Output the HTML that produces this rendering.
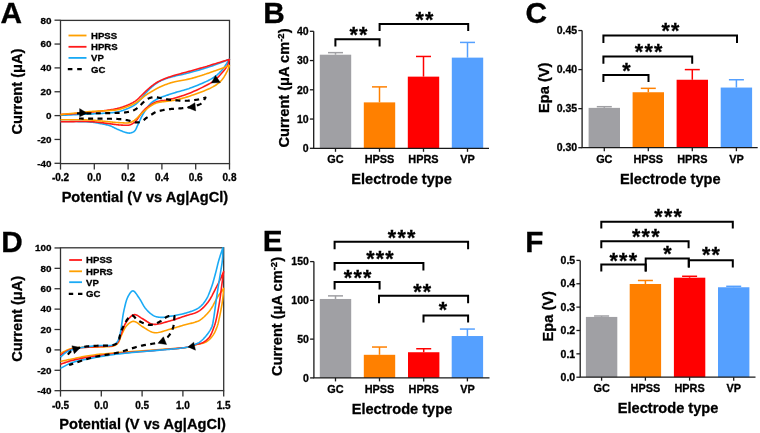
<!DOCTYPE html>
<html><head><meta charset="utf-8"><style>
html,body{margin:0;padding:0;background:#fff;}
svg{display:block;will-change:transform;}
text{font-family:"Liberation Sans", sans-serif;font-weight:bold;fill:#000;stroke:#000;stroke-width:0.3px;}
</style></head><body>
<svg width="760" height="433" viewBox="0 0 760 433">
<text x="0.4" y="23.1" font-size="29.8" text-anchor="start" >A</text>
<text x="263.3" y="22.9" font-size="29.8" text-anchor="start" >B</text>
<text x="525.6" y="22.6" font-size="29.8" text-anchor="start" >C</text>
<text x="1.3" y="251.6" font-size="29.8" text-anchor="start" >D</text>
<text x="262.8" y="251.4" font-size="29.8" text-anchor="start" >E</text>
<text x="525.3" y="251.6" font-size="29.8" text-anchor="start" >F</text>
<rect x="60.5" y="20.4" width="169" height="143.2" fill="none" stroke="#333" stroke-width="1.3"/>
<line x1="54.5" y1="20.2" x2="60.5" y2="20.2" stroke="#333" stroke-width="1.3"/>
<text x="51.5" y="23.5" font-size="9.9" text-anchor="end" >80</text>
<line x1="54.5" y1="44.05" x2="60.5" y2="44.05" stroke="#333" stroke-width="1.3"/>
<text x="51.5" y="47.35" font-size="9.9" text-anchor="end" >60</text>
<line x1="54.5" y1="67.9" x2="60.5" y2="67.9" stroke="#333" stroke-width="1.3"/>
<text x="51.5" y="71.2" font-size="9.9" text-anchor="end" >40</text>
<line x1="54.5" y1="91.75" x2="60.5" y2="91.75" stroke="#333" stroke-width="1.3"/>
<text x="51.5" y="95.05" font-size="9.9" text-anchor="end" >20</text>
<line x1="54.5" y1="115.6" x2="60.5" y2="115.6" stroke="#333" stroke-width="1.3"/>
<text x="51.5" y="118.9" font-size="9.9" text-anchor="end" >0</text>
<line x1="54.5" y1="139.45" x2="60.5" y2="139.45" stroke="#333" stroke-width="1.3"/>
<text x="51.5" y="142.75" font-size="9.9" text-anchor="end" >-20</text>
<line x1="54.5" y1="163.3" x2="60.5" y2="163.3" stroke="#333" stroke-width="1.3"/>
<text x="51.5" y="166.6" font-size="9.9" text-anchor="end" >-40</text>
<line x1="60.5" y1="163.6" x2="60.5" y2="169.6" stroke="#333" stroke-width="1.3"/>
<text x="60.5" y="181" font-size="10" text-anchor="middle" >-0.2</text>
<line x1="94.3" y1="163.6" x2="94.3" y2="169.6" stroke="#333" stroke-width="1.3"/>
<text x="94.3" y="181" font-size="10" text-anchor="middle" >0.0</text>
<line x1="128.1" y1="163.6" x2="128.1" y2="169.6" stroke="#333" stroke-width="1.3"/>
<text x="128.1" y="181" font-size="10" text-anchor="middle" >0.2</text>
<line x1="161.9" y1="163.6" x2="161.9" y2="169.6" stroke="#333" stroke-width="1.3"/>
<text x="161.9" y="181" font-size="10" text-anchor="middle" >0.4</text>
<line x1="195.7" y1="163.6" x2="195.7" y2="169.6" stroke="#333" stroke-width="1.3"/>
<text x="195.7" y="181" font-size="10" text-anchor="middle" >0.6</text>
<line x1="229.5" y1="163.6" x2="229.5" y2="169.6" stroke="#333" stroke-width="1.3"/>
<text x="229.5" y="181" font-size="10" text-anchor="middle" >0.8</text>
<text x="144.9" y="201.6" font-size="14.6" text-anchor="middle" >Potential (V vs Ag|AgCl)</text>
<text transform="translate(22,91.6) rotate(-90)" x="0" y="0" font-size="14.6" text-anchor="middle">Current (μA)</text>
<g>
<path d="M60.5,115.3 L63.01,115.19 L65.55,115.08 L68.12,114.97 L70.7,114.86 L73.28,114.75 L75.85,114.64 L78.38,114.53 L80.86,114.42 L83.28,114.31 L85.6,114.21 L87.79,114.1 L89.73,114.01 L91.36,113.94 L92.78,113.87 L94.11,113.81 L95.4,113.75 L96.65,113.7 L97.87,113.64 L99.08,113.58 L100.26,113.51 L101.45,113.45 L102.63,113.37 L103.81,113.29 L104.97,113.2 L106.11,113.12 L107.24,113.04 L108.35,112.96 L109.45,112.88 L110.55,112.79 L111.64,112.7 L112.73,112.6 L113.8,112.48 L114.86,112.34 L115.92,112.18 L116.96,112 L117.98,111.79 L118.96,111.56 L119.94,111.31 L120.9,111.04 L121.86,110.74 L122.81,110.44 L123.75,110.11 L124.67,109.78 L125.58,109.43 L126.47,109.08 L127.33,108.72 L128.16,108.37 L128.94,108.02 L129.64,107.7 L130.29,107.39 L130.92,107.08 L131.54,106.77 L132.14,106.45 L132.72,106.13 L133.3,105.8 L133.86,105.46 L134.41,105.11 L134.95,104.75 L135.48,104.38 L135.98,104 L136.46,103.62 L136.92,103.24 L137.36,102.85 L137.78,102.45 L138.2,102.04 L138.61,101.62 L139.01,101.2 L139.41,100.77 L139.81,100.33 L140.2,99.89 L140.6,99.45 L141.01,98.99 L141.42,98.51 L141.83,98.01 L142.24,97.51 L142.64,97 L143.05,96.48 L143.45,95.95 L143.85,95.43 L144.26,94.9 L144.68,94.37 L145.11,93.84 L145.55,93.32 L146.03,92.78 L146.53,92.22 L147.07,91.64 L147.61,91.06 L148.18,90.47 L148.75,89.88 L149.33,89.29 L149.91,88.71 L150.5,88.14 L151.1,87.59 L151.7,87.04 L152.3,86.52 L152.89,86.02 L153.46,85.55 L154.03,85.1 L154.61,84.65 L155.18,84.22 L155.76,83.8 L156.35,83.39 L156.93,83 L157.52,82.61 L158.11,82.24 L158.71,81.88 L159.3,81.54 L159.89,81.22 L160.46,80.92 L161.03,80.64 L161.6,80.37 L162.17,80.12 L162.75,79.88 L163.32,79.65 L163.9,79.43 L164.48,79.22 L165.06,79.01 L165.64,78.8 L166.22,78.6 L166.79,78.4 L167.35,78.21 L167.9,78.03 L168.44,77.86 L168.98,77.7 L169.52,77.54 L170.06,77.38 L170.61,77.22 L171.18,77.07 L171.77,76.91 L172.39,76.74 L173.06,76.57 L173.87,76.36 L174.86,76.11 L176.01,75.84 L177.25,75.55 L178.54,75.27 L179.88,74.97 L181.27,74.67 L182.68,74.36 L184.12,74.03 L185.58,73.69 L187.05,73.34 L188.55,72.97 L190.13,72.56 L191.85,72.09 L193.69,71.58 L195.6,71.04 L197.55,70.47 L199.53,69.89 L201.52,69.29 L203.51,68.68 L205.48,68.06 L207.43,67.44 L209.33,66.82 L211.17,66.22 L212.88,65.63 L214.44,65.09 L215.89,64.57 L217.3,64.04 L218.68,63.52 L220.04,62.99 L221.38,62.47 L222.72,61.94 L224.04,61.41 L225.37,60.88 L226.71,60.35 L228.05,59.83 L229.4,59.3 L228.79,60.21 L228.19,61.12 L227.6,62.04 L227.01,62.96 L226.42,63.88 L225.82,64.8 L225.22,65.71 L224.61,66.61 L223.98,67.49 L223.34,68.35 L222.68,69.18 L222.01,69.97 L221.34,70.73 L220.67,71.45 L220.01,72.14 L219.34,72.82 L218.66,73.48 L217.95,74.13 L217.22,74.77 L216.46,75.4 L215.66,76.02 L214.82,76.65 L213.89,77.29 L212.77,78.01 L211.37,78.85 L209.72,79.76 L207.9,80.7 L205.98,81.63 L203.97,82.56 L201.91,83.47 L199.82,84.35 L197.74,85.2 L195.7,86.02 L193.72,86.79 L191.86,87.5 L190.19,88.12 L188.74,88.64 L187.44,89.07 L186.19,89.47 L184.96,89.84 L183.75,90.19 L182.56,90.52 L181.39,90.84 L180.23,91.15 L179.1,91.45 L177.99,91.76 L176.9,92.08 L175.87,92.38 L174.92,92.68 L174.02,92.96 L173.15,93.24 L172.28,93.52 L171.43,93.8 L170.59,94.08 L169.77,94.35 L168.97,94.61 L168.19,94.87 L167.44,95.12 L166.72,95.36 L166.09,95.57 L165.55,95.75 L165.08,95.9 L164.64,96.04 L164.21,96.18 L163.8,96.31 L163.39,96.44 L162.99,96.57 L162.6,96.71 L162.2,96.85 L161.8,96.99 L161.4,97.14 L160.99,97.31 L160.58,97.48 L160.16,97.65 L159.74,97.84 L159.32,98.02 L158.9,98.21 L158.48,98.41 L158.06,98.61 L157.65,98.82 L157.23,99.03 L156.82,99.25 L156.41,99.47 L155.99,99.71 L155.57,99.95 L155.14,100.2 L154.71,100.45 L154.29,100.71 L153.86,100.97 L153.43,101.24 L153.01,101.52 L152.6,101.81 L152.19,102.11 L151.79,102.43 L151.39,102.76 L150.99,103.12 L150.59,103.51 L150.19,103.93 L149.8,104.37 L149.42,104.82 L149.04,105.29 L148.67,105.77 L148.3,106.26 L147.94,106.76 L147.58,107.26 L147.22,107.77 L146.86,108.29 L146.49,108.82 L146.11,109.37 L145.72,109.93 L145.33,110.51 L144.95,111.09 L144.57,111.68 L144.19,112.28 L143.81,112.89 L143.44,113.5 L143.07,114.12 L142.71,114.74 L142.35,115.37 L142,116.02 L141.64,116.69 L141.29,117.38 L140.95,118.09 L140.61,118.81 L140.27,119.54 L139.94,120.27 L139.62,120.99 L139.29,121.72 L138.97,122.43 L138.65,123.13 L138.33,123.82 L138.02,124.47 L137.73,125.09 L137.45,125.69 L137.19,126.3 L136.93,126.9 L136.67,127.49 L136.41,128.08 L136.15,128.64 L135.87,129.18 L135.58,129.69 L135.27,130.16 L134.95,130.59 L134.62,130.95 L134.3,131.25 L133.98,131.51 L133.65,131.74 L133.32,131.95 L132.97,132.14 L132.62,132.31 L132.26,132.47 L131.9,132.6 L131.55,132.72 L131.19,132.83 L130.85,132.92 L130.52,132.99 L130.22,133.04 L129.93,133.08 L129.65,133.1 L129.38,133.11 L129.11,133.11 L128.83,133.09 L128.55,133.07 L128.27,133.03 L127.97,132.98 L127.66,132.93 L127.32,132.86 L126.89,132.77 L126.35,132.63 L125.7,132.45 L125,132.23 L124.26,131.98 L123.49,131.71 L122.7,131.41 L121.9,131.1 L121.1,130.78 L120.3,130.45 L119.52,130.13 L118.75,129.81 L118.02,129.5 L117.32,129.2 L116.65,128.89 L115.99,128.57 L115.33,128.25 L114.69,127.92 L114.04,127.59 L113.39,127.26 L112.73,126.95 L112.07,126.64 L111.39,126.34 L110.69,126.07 L109.97,125.8 L109.2,125.55 L108.41,125.31 L107.6,125.09 L106.77,124.88 L105.93,124.68 L105.09,124.5 L104.24,124.32 L103.39,124.15 L102.54,123.98 L101.69,123.82 L100.84,123.66 L100.01,123.5 L99.2,123.35 L98.41,123.2 L97.64,123.05 L96.87,122.91 L96.11,122.78 L95.33,122.65 L94.54,122.53 L93.72,122.41 L92.86,122.3 L91.95,122.19 L90.94,122.09 L89.65,121.99 L87.95,121.87 L85.91,121.77 L83.66,121.69 L81.27,121.63 L78.78,121.58 L76.2,121.55 L73.57,121.53 L70.91,121.51 L68.26,121.49 L65.63,121.47 L63.04,121.44 L60.5,121.4" fill="none" stroke="#1AAAF5" stroke-width="1.6" stroke-linejoin="round"/>
<path d="M60.5,114.5 L61.71,114.43 L62.91,114.36 L64.12,114.29 L65.32,114.22 L66.53,114.15 L67.74,114.08 L68.94,114.01 L70.15,113.93 L71.36,113.86 L72.57,113.77 L73.79,113.69 L75.01,113.6 L76.24,113.5 L77.49,113.4 L78.73,113.29 L79.98,113.18 L81.23,113.06 L82.49,112.94 L83.74,112.82 L84.99,112.7 L86.24,112.57 L87.5,112.45 L88.75,112.33 L90,112.2 L91.26,112.08 L92.52,111.95 L93.78,111.83 L95.04,111.71 L96.31,111.59 L97.57,111.46 L98.83,111.33 L100.08,111.2 L101.32,111.06 L102.56,110.91 L103.78,110.76 L104.97,110.6 L106.11,110.45 L107.24,110.3 L108.35,110.14 L109.45,109.99 L110.55,109.83 L111.64,109.66 L112.72,109.49 L113.8,109.3 L114.86,109.1 L115.92,108.88 L116.96,108.65 L117.97,108.4 L118.96,108.13 L119.93,107.86 L120.9,107.56 L121.85,107.26 L122.8,106.94 L123.74,106.61 L124.67,106.27 L125.57,105.93 L126.46,105.58 L127.33,105.22 L128.16,104.86 L128.94,104.52 L129.64,104.2 L130.29,103.9 L130.92,103.59 L131.53,103.29 L132.13,102.97 L132.72,102.66 L133.29,102.33 L133.85,102 L134.4,101.66 L134.94,101.32 L135.47,100.96 L135.98,100.61 L136.46,100.25 L136.91,99.89 L137.34,99.52 L137.77,99.15 L138.18,98.76 L138.59,98.38 L138.99,97.99 L139.39,97.59 L139.79,97.19 L140.19,96.8 L140.59,96.4 L141,96 L141.42,95.59 L141.84,95.18 L142.25,94.76 L142.67,94.34 L143.08,93.91 L143.5,93.49 L143.91,93.07 L144.33,92.64 L144.74,92.23 L145.16,91.81 L145.58,91.41 L146,91.01 L146.41,90.62 L146.82,90.23 L147.24,89.85 L147.65,89.48 L148.06,89.1 L148.48,88.73 L148.9,88.37 L149.31,88 L149.73,87.64 L150.15,87.29 L150.58,86.95 L150.99,86.61 L151.41,86.28 L151.82,85.96 L152.23,85.64 L152.65,85.33 L153.06,85.02 L153.48,84.71 L153.89,84.41 L154.31,84.12 L154.73,83.83 L155.15,83.55 L155.58,83.27 L155.99,83.01 L156.41,82.75 L156.82,82.5 L157.23,82.26 L157.65,82.03 L158.06,81.8 L158.48,81.57 L158.9,81.35 L159.32,81.13 L159.74,80.92 L160.16,80.71 L160.58,80.51 L161,80.3 L161.41,80.11 L161.81,79.92 L162.21,79.74 L162.62,79.56 L163.02,79.39 L163.42,79.22 L163.83,79.05 L164.25,78.88 L164.67,78.71 L165.1,78.54 L165.56,78.37 L166.05,78.18 L166.59,77.98 L167.17,77.77 L167.76,77.55 L168.37,77.34 L169,77.12 L169.63,76.91 L170.28,76.69 L170.94,76.47 L171.61,76.26 L172.29,76.04 L173.01,75.82 L173.78,75.58 L174.64,75.32 L175.56,75.05 L176.52,74.78 L177.49,74.51 L178.49,74.23 L179.51,73.96 L180.55,73.68 L181.6,73.39 L182.68,73.1 L183.77,72.81 L184.9,72.5 L186.13,72.16 L187.53,71.78 L189.06,71.36 L190.68,70.91 L192.34,70.45 L194.04,69.98 L195.75,69.51 L197.43,69.05 L199.09,68.59 L200.69,68.14 L202.21,67.71 L203.6,67.3 L204.79,66.96 L205.72,66.68 L206.48,66.45 L207.16,66.25 L207.81,66.04 L208.43,65.85 L209.04,65.65 L209.64,65.46 L210.26,65.26 L210.9,65.06 L211.56,64.85 L212.29,64.62 L213.16,64.35 L214.22,64.03 L215.43,63.65 L216.71,63.26 L218.05,62.85 L219.43,62.43 L220.85,62 L222.28,61.57 L223.72,61.13 L225.16,60.69 L226.59,60.26 L228,59.83 L229.4,59.4 L229.2,60 L229.01,60.59 L228.84,61.18 L228.66,61.77 L228.49,62.36 L228.32,62.95 L228.13,63.55 L227.92,64.14 L227.68,64.75 L227.42,65.36 L227.11,65.99 L226.71,66.71 L226.18,67.55 L225.54,68.49 L224.8,69.49 L224,70.5 L223.15,71.53 L222.27,72.56 L221.38,73.57 L220.5,74.54 L219.63,75.47 L218.81,76.34 L218.05,77.13 L217.43,77.77 L216.95,78.26 L216.57,78.64 L216.25,78.97 L215.94,79.27 L215.63,79.56 L215.33,79.84 L215.02,80.11 L214.68,80.39 L214.32,80.67 L213.92,80.96 L213.43,81.3 L212.69,81.78 L211.57,82.47 L210.1,83.32 L208.39,84.27 L206.5,85.27 L204.49,86.3 L202.38,87.35 L200.22,88.4 L198.06,89.42 L195.92,90.41 L193.85,91.33 L191.92,92.18 L190.19,92.91 L188.68,93.52 L187.31,94.05 L185.98,94.54 L184.67,95 L183.38,95.44 L182.11,95.86 L180.87,96.25 L179.64,96.63 L178.44,96.99 L177.27,97.34 L176.14,97.67 L175.11,97.97 L174.19,98.23 L173.35,98.46 L172.55,98.68 L171.75,98.89 L170.98,99.09 L170.21,99.28 L169.47,99.46 L168.74,99.63 L168.03,99.79 L167.34,99.94 L166.67,100.07 L166.07,100.18 L165.55,100.27 L165.09,100.34 L164.66,100.39 L164.23,100.44 L163.82,100.48 L163.41,100.52 L163.01,100.55 L162.61,100.59 L162.21,100.63 L161.81,100.68 L161.41,100.74 L161,100.8 L160.58,100.88 L160.16,100.95 L159.74,101.03 L159.32,101.11 L158.9,101.19 L158.48,101.28 L158.06,101.37 L157.65,101.48 L157.23,101.59 L156.82,101.72 L156.41,101.86 L155.99,102.01 L155.57,102.18 L155.15,102.38 L154.73,102.58 L154.31,102.8 L153.89,103.03 L153.47,103.27 L153.06,103.52 L152.65,103.77 L152.23,104.02 L151.82,104.28 L151.41,104.54 L150.99,104.8 L150.57,105.07 L150.15,105.34 L149.72,105.61 L149.29,105.89 L148.86,106.18 L148.43,106.46 L148.01,106.75 L147.6,107.05 L147.19,107.36 L146.78,107.67 L146.39,107.98 L146.01,108.3 L145.64,108.62 L145.28,108.95 L144.93,109.28 L144.58,109.62 L144.25,109.96 L143.91,110.31 L143.58,110.67 L143.26,111.02 L142.94,111.39 L142.62,111.75 L142.31,112.13 L142,112.51 L141.69,112.9 L141.38,113.31 L141.08,113.72 L140.78,114.15 L140.48,114.58 L140.19,115.01 L139.91,115.44 L139.62,115.86 L139.34,116.29 L139.06,116.7 L138.78,117.1 L138.52,117.48 L138.27,117.83 L138.03,118.16 L137.81,118.49 L137.58,118.81 L137.36,119.13 L137.14,119.44 L136.92,119.75 L136.69,120.05 L136.45,120.35 L136.21,120.64 L135.96,120.92 L135.69,121.2 L135.42,121.47 L135.13,121.74 L134.83,122 L134.53,122.26 L134.22,122.51 L133.9,122.75 L133.58,122.99 L133.26,123.21 L132.94,123.43 L132.62,123.63 L132.31,123.82 L132.02,123.98 L131.76,124.13 L131.52,124.25 L131.29,124.37 L131.06,124.48 L130.83,124.58 L130.6,124.67 L130.37,124.76 L130.12,124.84 L129.86,124.91 L129.59,124.98 L129.29,125.04 L128.9,125.11 L128.38,125.17 L127.77,125.23 L127.09,125.26 L126.37,125.28 L125.61,125.27 L124.83,125.26 L124.03,125.23 L123.22,125.19 L122.4,125.15 L121.59,125.1 L120.79,125.05 L119.99,125 L119.18,124.93 L118.36,124.86 L117.53,124.78 L116.7,124.68 L115.87,124.58 L115.03,124.47 L114.19,124.36 L113.35,124.25 L112.51,124.13 L111.67,124.02 L110.84,123.91 L110,123.8 L109.17,123.69 L108.33,123.58 L107.5,123.47 L106.67,123.36 L105.83,123.25 L105,123.13 L104.17,123.02 L103.33,122.91 L102.5,122.8 L101.67,122.7 L100.84,122.6 L100.01,122.5 L99.2,122.41 L98.41,122.32 L97.63,122.23 L96.86,122.14 L96.1,122.06 L95.32,121.98 L94.53,121.9 L93.71,121.83 L92.85,121.77 L91.95,121.71 L90.94,121.65 L89.65,121.6 L87.95,121.55 L85.91,121.52 L83.65,121.5 L81.27,121.51 L78.77,121.53 L76.2,121.57 L73.57,121.61 L70.91,121.65 L68.25,121.7 L65.62,121.74 L63.04,121.77 L60.5,121.8" fill="none" stroke="#FF1A1A" stroke-width="1.6" stroke-linejoin="round"/>
<path d="M60.5,114.6 L63.01,114.34 L65.55,114.07 L68.11,113.8 L70.7,113.52 L73.28,113.24 L75.85,112.97 L78.38,112.7 L80.86,112.45 L83.27,112.21 L85.6,111.98 L87.79,111.79 L89.73,111.63 L91.36,111.51 L92.78,111.41 L94.11,111.34 L95.39,111.27 L96.64,111.22 L97.87,111.16 L99.07,111.11 L100.26,111.06 L101.44,111.01 L102.62,110.95 L103.8,110.88 L104.97,110.8 L106.11,110.73 L107.23,110.66 L108.35,110.59 L109.45,110.53 L110.55,110.46 L111.64,110.39 L112.72,110.31 L113.8,110.21 L114.86,110.09 L115.92,109.95 L116.96,109.78 L117.97,109.59 L118.96,109.37 L119.93,109.13 L120.9,108.87 L121.85,108.59 L122.8,108.29 L123.74,107.98 L124.66,107.66 L125.57,107.33 L126.46,107 L127.33,106.66 L128.16,106.33 L128.94,106.02 L129.63,105.74 L130.28,105.46 L130.91,105.19 L131.52,104.92 L132.11,104.64 L132.7,104.37 L133.27,104.08 L133.84,103.8 L134.39,103.5 L134.93,103.21 L135.47,102.91 L135.97,102.61 L136.45,102.32 L136.9,102.03 L137.33,101.74 L137.75,101.45 L138.17,101.15 L138.58,100.85 L138.98,100.55 L139.38,100.24 L139.78,99.93 L140.19,99.62 L140.59,99.31 L141,99 L141.42,98.67 L141.83,98.35 L142.24,98.01 L142.64,97.67 L143.05,97.34 L143.46,96.99 L143.87,96.65 L144.28,96.32 L144.7,95.98 L145.13,95.65 L145.56,95.32 L146.02,95 L146.49,94.67 L146.98,94.34 L147.47,94.02 L147.97,93.7 L148.48,93.39 L149,93.07 L149.52,92.76 L150.05,92.45 L150.58,92.14 L151.11,91.83 L151.66,91.51 L152.22,91.19 L152.82,90.84 L153.44,90.49 L154.07,90.12 L154.71,89.76 L155.36,89.39 L156.01,89.03 L156.66,88.67 L157.31,88.32 L157.97,87.97 L158.62,87.64 L159.26,87.32 L159.88,87.02 L160.48,86.74 L161.06,86.47 L161.63,86.22 L162.21,85.97 L162.78,85.73 L163.36,85.5 L163.93,85.28 L164.5,85.05 L165.07,84.84 L165.65,84.62 L166.22,84.41 L166.79,84.2 L167.35,84 L167.9,83.8 L168.44,83.61 L168.98,83.42 L169.52,83.24 L170.06,83.06 L170.61,82.88 L171.18,82.71 L171.77,82.53 L172.39,82.36 L173.06,82.17 L173.87,81.97 L174.88,81.73 L176.06,81.48 L177.33,81.22 L178.67,80.98 L180.05,80.73 L181.47,80.48 L182.92,80.22 L184.37,79.96 L185.81,79.69 L187.24,79.41 L188.63,79.11 L189.98,78.79 L191.3,78.46 L192.61,78.11 L193.92,77.75 L195.23,77.37 L196.54,76.98 L197.84,76.58 L199.12,76.19 L200.37,75.79 L201.58,75.41 L202.76,75.03 L203.88,74.67 L204.87,74.34 L205.71,74.07 L206.43,73.82 L207.1,73.6 L207.74,73.38 L208.37,73.16 L208.98,72.94 L209.6,72.72 L210.23,72.49 L210.88,72.26 L211.55,72.02 L212.29,71.75 L213.16,71.44 L214.22,71.07 L215.43,70.63 L216.72,70.17 L218.06,69.69 L219.44,69.19 L220.85,68.68 L222.28,68.17 L223.72,67.65 L225.16,67.13 L226.59,66.61 L228,66.1 L229.4,65.6 L229.23,66.04 L229.07,66.49 L228.92,66.92 L228.76,67.36 L228.61,67.79 L228.46,68.23 L228.29,68.67 L228.12,69.12 L227.94,69.58 L227.74,70.04 L227.52,70.53 L227.25,71.08 L226.93,71.73 L226.56,72.46 L226.16,73.22 L225.74,74.01 L225.29,74.82 L224.82,75.63 L224.34,76.44 L223.83,77.24 L223.3,78.02 L222.75,78.78 L222.18,79.5 L221.59,80.18 L221,80.83 L220.39,81.44 L219.77,82.03 L219.13,82.6 L218.48,83.15 L217.8,83.68 L217.09,84.21 L216.35,84.73 L215.57,85.24 L214.75,85.76 L213.85,86.29 L212.76,86.91 L211.38,87.64 L209.74,88.44 L207.93,89.27 L206.02,90.1 L204.01,90.92 L201.96,91.73 L199.87,92.52 L197.79,93.29 L195.74,94.02 L193.75,94.72 L191.87,95.36 L190.17,95.94 L188.67,96.43 L187.3,96.87 L185.97,97.28 L184.66,97.67 L183.37,98.04 L182.1,98.39 L180.86,98.72 L179.64,99.03 L178.44,99.32 L177.27,99.6 L176.14,99.85 L175.11,100.07 L174.19,100.25 L173.35,100.41 L172.55,100.54 L171.75,100.67 L170.97,100.78 L170.21,100.88 L169.46,100.98 L168.74,101.07 L168.03,101.15 L167.33,101.23 L166.67,101.32 L166.07,101.39 L165.55,101.46 L165.09,101.51 L164.65,101.56 L164.23,101.6 L163.82,101.65 L163.41,101.69 L163.01,101.73 L162.61,101.78 L162.21,101.83 L161.81,101.88 L161.41,101.94 L161,102 L160.58,102.07 L160.16,102.14 L159.74,102.21 L159.32,102.28 L158.9,102.35 L158.48,102.43 L158.06,102.52 L157.65,102.61 L157.23,102.72 L156.82,102.84 L156.41,102.96 L155.99,103.11 L155.57,103.27 L155.15,103.46 L154.73,103.65 L154.31,103.86 L153.89,104.08 L153.47,104.3 L153.05,104.54 L152.64,104.78 L152.23,105.03 L151.82,105.29 L151.41,105.54 L150.99,105.81 L150.57,106.08 L150.15,106.36 L149.73,106.65 L149.31,106.95 L148.89,107.25 L148.47,107.56 L148.06,107.87 L147.64,108.19 L147.23,108.51 L146.82,108.84 L146.41,109.17 L145.99,109.51 L145.58,109.85 L145.15,110.21 L144.73,110.57 L144.31,110.94 L143.9,111.31 L143.48,111.69 L143.06,112.07 L142.65,112.45 L142.24,112.83 L141.82,113.22 L141.41,113.61 L141,114.01 L140.58,114.42 L140.16,114.84 L139.74,115.27 L139.32,115.71 L138.9,116.15 L138.48,116.58 L138.06,117.02 L137.65,117.44 L137.23,117.86 L136.82,118.26 L136.41,118.63 L136.03,118.97 L135.67,119.27 L135.32,119.55 L134.98,119.82 L134.65,120.08 L134.31,120.34 L133.97,120.58 L133.64,120.81 L133.31,121.03 L132.98,121.24 L132.65,121.44 L132.33,121.62 L132.03,121.78 L131.76,121.92 L131.51,122.04 L131.28,122.14 L131.05,122.24 L130.82,122.33 L130.59,122.42 L130.36,122.49 L130.12,122.56 L129.86,122.63 L129.59,122.69 L129.28,122.75 L128.9,122.81 L128.38,122.86 L127.77,122.91 L127.09,122.94 L126.37,122.95 L125.61,122.94 L124.83,122.93 L124.03,122.9 L123.22,122.86 L122.4,122.82 L121.59,122.78 L120.79,122.74 L119.99,122.7 L119.18,122.66 L118.36,122.61 L117.53,122.55 L116.7,122.49 L115.87,122.43 L115.03,122.36 L114.19,122.28 L113.35,122.21 L112.51,122.13 L111.67,122.05 L110.84,121.98 L110,121.9 L109.17,121.82 L108.33,121.74 L107.5,121.66 L106.67,121.58 L105.83,121.49 L105,121.41 L104.17,121.32 L103.33,121.23 L102.5,121.15 L101.67,121.06 L100.83,120.98 L100.01,120.9 L99.2,120.82 L98.4,120.74 L97.63,120.65 L96.86,120.57 L96.1,120.49 L95.32,120.41 L94.53,120.33 L93.71,120.26 L92.85,120.18 L91.95,120.12 L90.94,120.06 L89.65,119.99 L87.95,119.93 L85.91,119.88 L83.65,119.84 L81.27,119.81 L78.77,119.8 L76.2,119.8 L73.57,119.8 L70.91,119.8 L68.25,119.81 L65.62,119.81 L63.04,119.81 L60.5,119.8" fill="none" stroke="#FFA000" stroke-width="1.6" stroke-linejoin="round"/>
<path d="M77,113.4 L78.06,113.39 L79.11,113.38 L80.15,113.38 L81.18,113.37 L82.21,113.36 L83.24,113.36 L84.3,113.35 L85.37,113.34 L86.47,113.33 L87.61,113.32 L88.83,113.31 L90.24,113.3 L91.93,113.29 L93.87,113.27 L95.96,113.26 L98.14,113.25 L100.37,113.23 L102.62,113.22 L104.87,113.2 L107.08,113.17 L109.22,113.14 L111.26,113.1 L113.13,113.05 L114.74,113.01 L116.03,112.96 L117.12,112.92 L118.14,112.88 L119.12,112.84 L120.08,112.8 L121,112.75 L121.9,112.7 L122.76,112.64 L123.61,112.57 L124.42,112.49 L125.21,112.4 L125.91,112.31 L126.52,112.22 L127.05,112.13 L127.55,112.04 L128.04,111.95 L128.51,111.85 L128.97,111.75 L129.42,111.64 L129.87,111.52 L130.3,111.4 L130.74,111.27 L131.17,111.14 L131.58,111 L131.99,110.87 L132.37,110.73 L132.75,110.59 L133.12,110.45 L133.49,110.3 L133.85,110.14 L134.21,109.98 L134.57,109.81 L134.93,109.62 L135.28,109.43 L135.64,109.21 L136.02,108.97 L136.43,108.7 L136.84,108.39 L137.26,108.05 L137.68,107.7 L138.1,107.33 L138.51,106.94 L138.93,106.55 L139.34,106.16 L139.76,105.76 L140.17,105.37 L140.59,104.98 L141,104.6 L141.42,104.21 L141.83,103.81 L142.24,103.41 L142.65,103 L143.06,102.59 L143.47,102.19 L143.88,101.79 L144.3,101.39 L144.71,101.02 L145.14,100.66 L145.56,100.33 L145.99,100.02 L146.4,99.74 L146.81,99.49 L147.21,99.24 L147.62,99.01 L148.04,98.79 L148.46,98.58 L148.88,98.38 L149.3,98.19 L149.72,98.03 L150.15,97.87 L150.57,97.73 L150.99,97.61 L151.41,97.51 L151.82,97.42 L152.24,97.35 L152.65,97.29 L153.07,97.24 L153.49,97.2 L153.91,97.18 L154.33,97.17 L154.75,97.16 L155.17,97.17 L155.58,97.18 L156,97.21 L156.41,97.24 L156.82,97.29 L157.22,97.35 L157.62,97.43 L158.01,97.51 L158.41,97.6 L158.82,97.7 L159.23,97.8 L159.65,97.9 L160.09,98.01 L160.55,98.11 L161.07,98.21 L161.68,98.33 L162.34,98.46 L163.04,98.6 L163.76,98.74 L164.5,98.88 L165.26,99.03 L166.03,99.17 L166.81,99.31 L167.6,99.44 L168.39,99.57 L169.2,99.69 L170.05,99.8 L170.97,99.91 L171.94,100.02 L172.94,100.12 L173.96,100.21 L175,100.3 L176.04,100.38 L177.08,100.45 L178.1,100.52 L179.12,100.57 L180.1,100.62 L181.05,100.66 L181.92,100.7 L182.7,100.72 L183.41,100.74 L184.09,100.75 L184.75,100.76 L185.4,100.76 L186.05,100.76 L186.69,100.75 L187.34,100.74 L187.99,100.72 L188.65,100.68 L189.33,100.64 L190.04,100.59 L190.81,100.53 L191.62,100.45 L192.45,100.36 L193.3,100.26 L194.15,100.15 L195.01,100.03 L195.86,99.9 L196.69,99.77 L197.51,99.63 L198.3,99.49 L199.05,99.35 L199.72,99.21 L200.31,99.08 L200.84,98.96 L201.33,98.83 L201.82,98.7 L202.29,98.56 L202.75,98.43 L203.21,98.29 L203.66,98.15 L204.11,98.01 L204.57,97.87 L205.03,97.74 L205.5,97.6 L205.19,98.08 L204.89,98.58 L204.59,99.08 L204.3,99.59 L204,100.1 L203.7,100.6 L203.4,101.09 L203.08,101.57 L202.76,102.02 L202.42,102.44 L202.07,102.83 L201.71,103.17 L201.36,103.46 L201.01,103.71 L200.65,103.93 L200.29,104.13 L199.92,104.32 L199.54,104.49 L199.15,104.65 L198.75,104.8 L198.33,104.95 L197.9,105.1 L197.44,105.25 L196.92,105.42 L196.3,105.62 L195.6,105.82 L194.86,106.02 L194.08,106.22 L193.27,106.4 L192.45,106.58 L191.63,106.76 L190.8,106.92 L189.97,107.08 L189.16,107.22 L188.38,107.36 L187.64,107.49 L186.94,107.6 L186.27,107.71 L185.61,107.8 L184.96,107.89 L184.31,107.97 L183.66,108.04 L183.02,108.11 L182.4,108.18 L181.78,108.24 L181.17,108.29 L180.59,108.35 L180.05,108.39 L179.57,108.43 L179.13,108.47 L178.72,108.49 L178.31,108.52 L177.92,108.54 L177.53,108.56 L177.13,108.58 L176.73,108.6 L176.32,108.62 L175.9,108.64 L175.44,108.67 L174.92,108.71 L174.3,108.75 L173.6,108.8 L172.86,108.85 L172.09,108.91 L171.29,108.96 L170.5,109.03 L169.7,109.09 L168.91,109.16 L168.14,109.24 L167.39,109.32 L166.7,109.41 L166.08,109.49 L165.55,109.58 L165.09,109.66 L164.65,109.74 L164.22,109.83 L163.81,109.92 L163.41,110.01 L163.01,110.11 L162.61,110.2 L162.21,110.3 L161.81,110.4 L161.41,110.5 L161,110.6 L160.58,110.69 L160.16,110.79 L159.74,110.88 L159.32,110.97 L158.9,111.06 L158.48,111.15 L158.06,111.25 L157.64,111.36 L157.22,111.47 L156.81,111.6 L156.4,111.75 L156,111.91 L155.59,112.09 L155.18,112.3 L154.78,112.51 L154.38,112.74 L153.98,112.98 L153.58,113.23 L153.19,113.49 L152.79,113.75 L152.4,114.02 L152,114.28 L151.6,114.54 L151.19,114.8 L150.77,115.07 L150.33,115.35 L149.9,115.62 L149.46,115.9 L149.02,116.18 L148.58,116.47 L148.14,116.75 L147.7,117.04 L147.27,117.33 L146.84,117.62 L146.42,117.91 L146.01,118.2 L145.62,118.49 L145.24,118.79 L144.87,119.1 L144.51,119.42 L144.15,119.74 L143.79,120.05 L143.42,120.35 L143.06,120.64 L142.68,120.92 L142.3,121.17 L141.9,121.39 L141.49,121.59 L141.07,121.75 L140.63,121.9 L140.19,122.02 L139.73,122.13 L139.26,122.21 L138.79,122.28 L138.32,122.34 L137.85,122.38 L137.38,122.4 L136.91,122.41 L136.46,122.41 L136.01,122.39 L135.57,122.36 L135.14,122.3 L134.72,122.23 L134.29,122.14 L133.87,122.03 L133.45,121.92 L133.03,121.8 L132.62,121.67 L132.21,121.55 L131.8,121.43 L131.4,121.31 L131.02,121.21 L130.66,121.11 L130.32,121.01 L129.99,120.92 L129.66,120.82 L129.34,120.73 L129.02,120.63 L128.7,120.54 L128.37,120.45 L128.02,120.36 L127.66,120.27 L127.28,120.18 L126.82,120.09 L126.27,119.98 L125.64,119.88 L124.98,119.77 L124.3,119.66 L123.59,119.56 L122.85,119.47 L122.1,119.38 L121.32,119.29 L120.52,119.21 L119.7,119.14 L118.83,119.07 L117.84,119 L116.67,118.93 L115.35,118.87 L113.95,118.82 L112.5,118.79 L111,118.77 L109.47,118.75 L107.91,118.74 L106.33,118.74 L104.75,118.73 L103.16,118.72 L101.57,118.71 L99.95,118.7 L98.29,118.68 L96.59,118.66 L94.86,118.64 L93.11,118.62 L91.36,118.61 L89.6,118.59 L87.83,118.58 L86.06,118.56 L84.29,118.55 L82.52,118.53 L80.76,118.52 L79,118.5" fill="none" stroke="#000" stroke-width="2.2" stroke-linejoin="round" stroke-dasharray="5,4.4"/>
<polygon points="79.6,108.6 79.6,116.8 87.2,113.2" fill="#000" stroke="#000" stroke-width="0.4" stroke-linejoin="round"/>
<polygon points="215.4,75.4 211.4,82.9 220.4,82.6" fill="#000" stroke="#000" stroke-width="0.4" stroke-linejoin="round"/>
<polygon points="187.2,107.5 194.9,102.7 195.7,110.9" fill="#000" stroke="#000" stroke-width="0.4" stroke-linejoin="round"/>
</g>
<line x1="68.5" y1="35.5" x2="86.5" y2="35.5" stroke="#FFA000" stroke-width="1.8"/>
<line x1="68.5" y1="46.8" x2="86.5" y2="46.8" stroke="#FF1A1A" stroke-width="1.8"/>
<line x1="68.5" y1="57.9" x2="86.5" y2="57.9" stroke="#1AAAF5" stroke-width="1.8"/>
<line x1="67.8" y1="69.2" x2="82.2" y2="69.2" stroke="#000" stroke-width="2.2" stroke-dasharray="4.6,4.8"/>
<text x="91" y="38.9" font-size="9.6" text-anchor="start" >HPSS</text>
<text x="91" y="50.2" font-size="9.6" text-anchor="start" >HPRS</text>
<text x="91" y="61.3" font-size="9.6" text-anchor="start" >VP</text>
<text x="91" y="72.6" font-size="9.6" text-anchor="start" >GC</text>
<rect x="60.5" y="247.8" width="163.2" height="142.8" fill="none" stroke="#333" stroke-width="1.3"/>
<line x1="54.5" y1="247.95" x2="60.5" y2="247.95" stroke="#333" stroke-width="1.3"/>
<text x="51.5" y="251.25" font-size="9.9" text-anchor="end" >100</text>
<line x1="54.5" y1="268.34" x2="60.5" y2="268.34" stroke="#333" stroke-width="1.3"/>
<text x="51.5" y="271.64" font-size="9.9" text-anchor="end" >80</text>
<line x1="54.5" y1="288.73" x2="60.5" y2="288.73" stroke="#333" stroke-width="1.3"/>
<text x="51.5" y="292.03" font-size="9.9" text-anchor="end" >60</text>
<line x1="54.5" y1="309.12" x2="60.5" y2="309.12" stroke="#333" stroke-width="1.3"/>
<text x="51.5" y="312.42" font-size="9.9" text-anchor="end" >40</text>
<line x1="54.5" y1="329.51" x2="60.5" y2="329.51" stroke="#333" stroke-width="1.3"/>
<text x="51.5" y="332.81" font-size="9.9" text-anchor="end" >20</text>
<line x1="54.5" y1="349.9" x2="60.5" y2="349.9" stroke="#333" stroke-width="1.3"/>
<text x="51.5" y="353.2" font-size="9.9" text-anchor="end" >0</text>
<line x1="54.5" y1="370.29" x2="60.5" y2="370.29" stroke="#333" stroke-width="1.3"/>
<text x="51.5" y="373.59" font-size="9.9" text-anchor="end" >-20</text>
<line x1="54.5" y1="390.68" x2="60.5" y2="390.68" stroke="#333" stroke-width="1.3"/>
<text x="51.5" y="393.98" font-size="9.9" text-anchor="end" >-40</text>
<line x1="60.5" y1="390.6" x2="60.5" y2="396.6" stroke="#333" stroke-width="1.3"/>
<text x="60.5" y="408.9" font-size="10" text-anchor="middle" >-0.5</text>
<line x1="101.3" y1="390.6" x2="101.3" y2="396.6" stroke="#333" stroke-width="1.3"/>
<text x="101.3" y="408.9" font-size="10" text-anchor="middle" >0.0</text>
<line x1="142.1" y1="390.6" x2="142.1" y2="396.6" stroke="#333" stroke-width="1.3"/>
<text x="142.1" y="408.9" font-size="10" text-anchor="middle" >0.5</text>
<line x1="182.9" y1="390.6" x2="182.9" y2="396.6" stroke="#333" stroke-width="1.3"/>
<text x="182.9" y="408.9" font-size="10" text-anchor="middle" >1.0</text>
<line x1="223.7" y1="390.6" x2="223.7" y2="396.6" stroke="#333" stroke-width="1.3"/>
<text x="223.7" y="408.9" font-size="10" text-anchor="middle" >1.5</text>
<text x="142.6" y="428.6" font-size="14.6" text-anchor="middle" >Potential (V vs Ag|AgCl)</text>
<text transform="translate(22,318.8) rotate(-90)" x="0" y="0" font-size="14.6" text-anchor="middle">Current (μA)</text>
<path d="M60.5,353.3 L61.42,352.87 L62.32,352.44 L63.21,352 L64.09,351.55 L64.97,351.1 L65.85,350.66 L66.76,350.22 L67.7,349.81 L68.67,349.42 L69.7,349.05 L70.83,348.71 L72.2,348.38 L73.93,348.07 L75.97,347.79 L78.22,347.58 L80.59,347.43 L83.05,347.33 L85.56,347.27 L88.08,347.23 L90.57,347.2 L93,347.18 L95.32,347.14 L97.47,347.08 L99.34,347.01 L100.89,346.94 L102.26,346.9 L103.56,346.86 L104.83,346.84 L106.07,346.81 L107.27,346.78 L108.43,346.73 L109.54,346.66 L110.59,346.55 L111.58,346.41 L112.49,346.23 L113.26,346.02 L113.87,345.82 L114.36,345.63 L114.8,345.44 L115.22,345.23 L115.62,345.01 L116,344.77 L116.36,344.52 L116.71,344.26 L117.05,343.97 L117.37,343.67 L117.69,343.33 L118.01,342.96 L118.33,342.53 L118.63,342.05 L118.91,341.53 L119.17,340.98 L119.4,340.4 L119.63,339.8 L119.85,339.18 L120.07,338.56 L120.31,337.92 L120.55,337.28 L120.82,336.63 L121.14,335.93 L121.49,335.16 L121.88,334.31 L122.28,333.41 L122.69,332.49 L123.11,331.56 L123.55,330.63 L124.01,329.71 L124.48,328.81 L124.98,327.96 L125.5,327.15 L126.04,326.41 L126.58,325.76 L127.11,325.18 L127.64,324.65 L128.18,324.13 L128.74,323.64 L129.32,323.17 L129.9,322.74 L130.5,322.35 L131.11,322.01 L131.73,321.73 L132.35,321.52 L132.98,321.39 L133.64,321.36 L134.34,321.44 L135.08,321.65 L135.83,321.97 L136.59,322.4 L137.37,322.91 L138.15,323.47 L138.94,324.08 L139.74,324.7 L140.54,325.32 L141.36,325.92 L142.18,326.48 L143.02,327 L143.89,327.53 L144.78,328.08 L145.68,328.65 L146.59,329.24 L147.5,329.82 L148.42,330.38 L149.36,330.91 L150.31,331.4 L151.28,331.83 L152.27,332.19 L153.29,332.47 L154.37,332.65 L155.53,332.72 L156.76,332.68 L158.04,332.54 L159.35,332.31 L160.67,332 L162.02,331.64 L163.36,331.24 L164.72,330.82 L166.06,330.39 L167.39,329.97 L168.7,329.58 L169.97,329.21 L171.21,328.87 L172.44,328.53 L173.65,328.18 L174.86,327.82 L176.07,327.45 L177.27,327.09 L178.45,326.72 L179.63,326.36 L180.79,326 L181.94,325.66 L183.07,325.33 L184.14,325.02 L185.15,324.75 L186.13,324.5 L187.09,324.26 L188.05,324.02 L189,323.8 L189.93,323.57 L190.85,323.35 L191.74,323.13 L192.6,322.9 L193.43,322.67 L194.21,322.44 L194.9,322.23 L195.47,322.04 L195.96,321.88 L196.42,321.74 L196.85,321.59 L197.27,321.45 L197.68,321.3 L198.08,321.14 L198.48,320.96 L198.9,320.76 L199.32,320.53 L199.77,320.26 L200.31,319.91 L200.98,319.43 L201.74,318.85 L202.54,318.2 L203.37,317.48 L204.21,316.72 L205.06,315.91 L205.9,315.06 L206.74,314.18 L207.57,313.28 L208.37,312.36 L209.15,311.42 L209.91,310.44 L210.68,309.38 L211.43,308.24 L212.17,307.03 L212.89,305.78 L213.59,304.49 L214.27,303.2 L214.95,301.91 L215.61,300.64 L216.26,299.4 L216.91,298.21 L217.54,297.1 L218.14,296.13 L218.67,295.3 L219.15,294.59 L219.62,293.92 L220.08,293.27 L220.53,292.64 L220.99,292.03 L221.44,291.43 L221.89,290.83 L222.34,290.23 L222.79,289.63 L223.24,289.02 L223.7,288.4 L223.6,289.48 L223.5,290.55 L223.41,291.62 L223.32,292.69 L223.23,293.75 L223.14,294.82 L223.04,295.89 L222.94,296.98 L222.82,298.08 L222.69,299.2 L222.55,300.36 L222.37,301.62 L222.16,303.02 L221.92,304.54 L221.65,306.14 L221.36,307.78 L221.06,309.44 L220.75,311.1 L220.43,312.75 L220.11,314.35 L219.79,315.89 L219.48,317.34 L219.19,318.67 L218.95,319.79 L218.75,320.65 L218.59,321.34 L218.45,321.97 L218.31,322.56 L218.18,323.13 L218.04,323.68 L217.89,324.23 L217.74,324.77 L217.58,325.31 L217.4,325.86 L217.2,326.43 L216.98,327.04 L216.72,327.71 L216.45,328.42 L216.15,329.14 L215.84,329.87 L215.52,330.61 L215.18,331.34 L214.82,332.07 L214.45,332.79 L214.06,333.5 L213.66,334.18 L213.23,334.85 L212.8,335.48 L212.35,336.1 L211.9,336.7 L211.43,337.28 L210.95,337.86 L210.45,338.42 L209.94,338.97 L209.4,339.5 L208.85,340 L208.27,340.49 L207.67,340.95 L207.03,341.38 L206.34,341.8 L205.55,342.2 L204.69,342.57 L203.77,342.9 L202.8,343.19 L201.81,343.45 L200.79,343.69 L199.77,343.91 L198.76,344.13 L197.77,344.33 L196.81,344.55 L195.9,344.77 L195.1,344.99 L194.41,345.19 L193.81,345.39 L193.26,345.59 L192.73,345.78 L192.21,345.97 L191.69,346.16 L191.17,346.34 L190.62,346.53 L190.03,346.7 L189.4,346.87 L188.67,347.05 L187.65,347.24 L186.2,347.48 L184.41,347.72 L182.39,347.94 L180.21,348.15 L177.91,348.33 L175.49,348.5 L173,348.66 L170.43,348.82 L167.83,348.98 L165.22,349.14 L162.56,349.32 L159.75,349.52 L156.67,349.75 L153.33,349.99 L149.85,350.24 L146.28,350.49 L142.66,350.75 L139,351 L135.34,351.26 L131.71,351.52 L128.14,351.78 L124.66,352.05 L121.33,352.32 L118.26,352.58 L115.51,352.82 L112.95,353.05 L110.47,353.27 L108.03,353.49 L105.63,353.71 L103.28,353.93 L100.96,354.17 L98.68,354.41 L96.45,354.66 L94.26,354.93 L92.14,355.21 L90.17,355.49 L88.37,355.76 L86.71,356.04 L85.1,356.32 L83.52,356.61 L81.97,356.91 L80.45,357.22 L78.95,357.53 L77.49,357.83 L76.05,358.14 L74.64,358.43 L73.28,358.71 L72.02,358.97 L70.89,359.21 L69.86,359.42 L68.88,359.62 L67.91,359.82 L66.97,360.02 L66.04,360.22 L65.12,360.42 L64.2,360.61 L63.29,360.81 L62.36,361 L61.44,361.2 L60.5,361.4" fill="none" stroke="#FFA000" stroke-width="1.6" stroke-linejoin="round"/>
<path d="M60.5,355 L61.42,354.5 L62.32,353.99 L63.21,353.47 L64.08,352.95 L64.95,352.42 L65.84,351.91 L66.74,351.4 L67.68,350.91 L68.66,350.44 L69.69,350 L70.82,349.58 L72.19,349.17 L73.92,348.75 L75.96,348.36 L78.2,348.03 L80.57,347.75 L83.03,347.52 L85.54,347.33 L88.06,347.17 L90.56,347.04 L92.99,346.91 L95.31,346.78 L97.46,346.65 L99.33,346.52 L100.89,346.43 L102.26,346.37 L103.56,346.33 L104.84,346.31 L106.08,346.3 L107.28,346.28 L108.44,346.25 L109.55,346.18 L110.6,346.09 L111.59,345.94 L112.5,345.74 L113.26,345.52 L113.87,345.29 L114.37,345.07 L114.82,344.84 L115.24,344.59 L115.64,344.33 L116.02,344.05 L116.38,343.76 L116.72,343.44 L117.05,343.11 L117.38,342.76 L117.69,342.38 L118.01,341.95 L118.34,341.46 L118.65,340.9 L118.93,340.31 L119.19,339.68 L119.42,339.03 L119.65,338.35 L119.87,337.65 L120.09,336.94 L120.32,336.21 L120.56,335.47 L120.83,334.72 L121.14,333.91 L121.49,333.01 L121.88,332.01 L122.27,330.96 L122.68,329.88 L123.1,328.78 L123.53,327.67 L123.99,326.58 L124.46,325.5 L124.96,324.45 L125.48,323.46 L126.03,322.52 L126.59,321.65 L127.14,320.86 L127.71,320.09 L128.29,319.33 L128.9,318.58 L129.52,317.86 L130.15,317.18 L130.81,316.54 L131.47,315.98 L132.14,315.49 L132.82,315.11 L133.51,314.83 L134.2,314.67 L134.89,314.64 L135.59,314.74 L136.3,314.96 L137.02,315.26 L137.75,315.65 L138.49,316.09 L139.23,316.58 L139.98,317.09 L140.73,317.6 L141.49,318.09 L142.25,318.56 L143.02,319.01 L143.8,319.46 L144.59,319.95 L145.38,320.46 L146.17,320.99 L146.96,321.53 L147.76,322.05 L148.58,322.55 L149.41,323.02 L150.27,323.43 L151.15,323.79 L152.08,324.06 L153.12,324.26 L154.29,324.35 L155.58,324.34 L156.94,324.22 L158.35,324.01 L159.8,323.72 L161.27,323.38 L162.75,322.99 L164.24,322.57 L165.71,322.14 L167.17,321.71 L168.59,321.3 L169.96,320.91 L171.28,320.54 L172.57,320.17 L173.84,319.78 L175.11,319.38 L176.36,318.97 L177.61,318.55 L178.86,318.13 L180.09,317.7 L181.32,317.27 L182.55,316.84 L183.77,316.42 L184.99,316.02 L186.19,315.63 L187.38,315.27 L188.58,314.93 L189.79,314.6 L190.98,314.27 L192.17,313.93 L193.34,313.57 L194.49,313.18 L195.62,312.75 L196.71,312.28 L197.76,311.76 L198.77,311.18 L199.73,310.55 L200.65,309.88 L201.53,309.16 L202.4,308.41 L203.23,307.62 L204.05,306.81 L204.84,305.96 L205.61,305.1 L206.35,304.21 L207.08,303.32 L207.8,302.41 L208.49,301.48 L209.17,300.53 L209.83,299.53 L210.46,298.51 L211.06,297.46 L211.65,296.39 L212.22,295.32 L212.77,294.23 L213.31,293.15 L213.84,292.09 L214.36,291.04 L214.88,290.02 L215.37,289.06 L215.84,288.17 L216.29,287.33 L216.72,286.5 L217.15,285.69 L217.57,284.88 L217.99,284.08 L218.4,283.29 L218.79,282.5 L219.18,281.72 L219.56,280.94 L219.93,280.18 L220.28,279.43 L220.6,278.73 L220.9,278.05 L221.19,277.38 L221.47,276.72 L221.74,276.07 L222.01,275.41 L222.28,274.76 L222.54,274.11 L222.8,273.46 L223.06,272.81 L223.33,272.16 L223.6,271.5 L223.45,272.62 L223.3,273.73 L223.15,274.84 L223.01,275.95 L222.86,277.06 L222.71,278.17 L222.56,279.28 L222.41,280.4 L222.26,281.54 L222.11,282.68 L221.95,283.84 L221.79,285.06 L221.63,286.33 L221.46,287.65 L221.29,288.99 L221.12,290.35 L220.95,291.72 L220.78,293.1 L220.6,294.48 L220.42,295.88 L220.23,297.28 L220.03,298.68 L219.81,300.1 L219.59,301.55 L219.34,303.07 L219.08,304.65 L218.8,306.28 L218.51,307.93 L218.22,309.59 L217.91,311.23 L217.61,312.85 L217.3,314.43 L216.99,315.94 L216.69,317.38 L216.4,318.69 L216.14,319.79 L215.94,320.65 L215.77,321.34 L215.61,321.95 L215.45,322.54 L215.29,323.1 L215.13,323.65 L214.97,324.18 L214.8,324.72 L214.62,325.27 L214.42,325.82 L214.21,326.42 L213.97,327.07 L213.7,327.82 L213.4,328.64 L213.09,329.49 L212.76,330.37 L212.42,331.26 L212.06,332.15 L211.69,333.03 L211.29,333.89 L210.88,334.73 L210.44,335.52 L209.98,336.27 L209.51,336.95 L209.04,337.56 L208.56,338.12 L208.07,338.66 L207.56,339.17 L207.03,339.67 L206.49,340.14 L205.94,340.59 L205.37,341.01 L204.79,341.42 L204.2,341.8 L203.6,342.15 L203,342.48 L202.38,342.78 L201.74,343.03 L201.09,343.26 L200.42,343.45 L199.74,343.62 L199.06,343.78 L198.37,343.93 L197.68,344.07 L197,344.21 L196.32,344.36 L195.66,344.53 L195.03,344.7 L194.43,344.89 L193.87,345.08 L193.34,345.27 L192.81,345.47 L192.29,345.67 L191.77,345.87 L191.23,346.07 L190.66,346.26 L190.06,346.45 L189.42,346.64 L188.67,346.83 L187.65,347.05 L186.21,347.32 L184.41,347.61 L182.39,347.88 L180.21,348.14 L177.91,348.39 L175.5,348.63 L173,348.86 L170.44,349.08 L167.84,349.31 L165.22,349.53 L162.56,349.77 L159.75,350.02 L156.67,350.3 L153.33,350.58 L149.85,350.87 L146.28,351.15 L142.66,351.43 L139,351.71 L135.34,351.99 L131.71,352.28 L128.14,352.57 L124.66,352.87 L121.33,353.18 L118.26,353.48 L115.5,353.77 L112.95,354.04 L110.47,354.31 L108.03,354.59 L105.63,354.87 L103.28,355.16 L100.96,355.45 L98.68,355.75 L96.45,356.05 L94.26,356.36 L92.14,356.67 L90.17,356.98 L88.37,357.26 L86.71,357.54 L85.1,357.81 L83.52,358.08 L81.96,358.36 L80.44,358.64 L78.94,358.93 L77.47,359.23 L76.04,359.53 L74.63,359.85 L73.27,360.17 L72.01,360.48 L70.88,360.78 L69.85,361.08 L68.86,361.37 L67.9,361.68 L66.96,361.99 L66.03,362.3 L65.11,362.62 L64.19,362.94 L63.28,363.26 L62.36,363.57 L61.43,363.89 L60.5,364.2" fill="none" stroke="#FF1A1A" stroke-width="1.6" stroke-linejoin="round"/>
<path d="M60.5,357.2 L60.95,356.79 L61.41,356.37 L61.86,355.95 L62.3,355.52 L62.75,355.1 L63.2,354.67 L63.65,354.26 L64.11,353.85 L64.57,353.46 L65.04,353.09 L65.52,352.74 L65.99,352.42 L66.45,352.13 L66.91,351.86 L67.36,351.61 L67.82,351.38 L68.28,351.16 L68.75,350.95 L69.23,350.75 L69.72,350.56 L70.24,350.37 L70.77,350.18 L71.35,349.99 L72.02,349.77 L72.85,349.52 L73.79,349.26 L74.8,348.99 L75.85,348.73 L76.95,348.49 L78.07,348.25 L79.21,348.01 L80.37,347.79 L81.54,347.58 L82.7,347.38 L83.86,347.19 L85.02,347 L86.19,346.83 L87.39,346.68 L88.6,346.53 L89.82,346.4 L91.04,346.28 L92.27,346.17 L93.5,346.07 L94.73,345.97 L95.95,345.87 L97.18,345.78 L98.39,345.69 L99.6,345.61 L100.8,345.56 L102.03,345.53 L103.27,345.54 L104.52,345.56 L105.77,345.58 L107.01,345.6 L108.22,345.59 L109.38,345.54 L110.49,345.45 L111.53,345.3 L112.47,345.08 L113.27,344.81 L113.92,344.54 L114.45,344.26 L114.92,343.98 L115.37,343.67 L115.79,343.34 L116.18,342.98 L116.55,342.59 L116.92,342.15 L117.27,341.68 L117.61,341.16 L117.98,340.54 L118.42,339.62 L118.97,338.21 L119.56,336.32 L120.11,334.09 L120.6,331.61 L121.05,328.95 L121.46,326.17 L121.86,323.34 L122.24,320.52 L122.63,317.78 L123.03,315.18 L123.45,312.81 L123.85,310.81 L124.21,309.19 L124.53,307.81 L124.84,306.5 L125.14,305.23 L125.44,304 L125.75,302.81 L126.07,301.66 L126.41,300.55 L126.77,299.49 L127.15,298.49 L127.56,297.54 L127.97,296.7 L128.35,295.96 L128.72,295.29 L129.1,294.63 L129.5,293.99 L129.9,293.36 L130.31,292.78 L130.74,292.25 L131.16,291.79 L131.6,291.4 L132.03,291.11 L132.47,290.93 L132.92,290.88 L133.4,290.97 L133.9,291.21 L134.41,291.6 L134.92,292.1 L135.45,292.71 L135.97,293.4 L136.5,294.14 L137.03,294.92 L137.55,295.71 L138.07,296.5 L138.59,297.27 L139.13,298.04 L139.68,298.87 L140.24,299.75 L140.79,300.68 L141.34,301.63 L141.89,302.61 L142.43,303.6 L142.99,304.58 L143.55,305.55 L144.13,306.5 L144.73,307.41 L145.36,308.26 L145.99,309.06 L146.63,309.79 L147.27,310.48 L147.92,311.16 L148.58,311.82 L149.27,312.46 L149.96,313.08 L150.66,313.66 L151.38,314.21 L152.1,314.72 L152.83,315.19 L153.56,315.6 L154.27,315.96 L154.97,316.26 L155.66,316.5 L156.35,316.71 L157.05,316.88 L157.76,317.02 L158.48,317.13 L159.19,317.22 L159.91,317.29 L160.61,317.33 L161.32,317.37 L162.01,317.39 L162.67,317.39 L163.31,317.38 L163.91,317.35 L164.5,317.3 L165.07,317.23 L165.65,317.14 L166.23,317.04 L166.81,316.93 L167.4,316.81 L168.02,316.68 L168.66,316.56 L169.34,316.42 L170.15,316.28 L171.12,316.11 L172.23,315.92 L173.42,315.72 L174.66,315.51 L175.94,315.29 L177.24,315.06 L178.55,314.81 L179.87,314.55 L181.19,314.26 L182.48,313.96 L183.75,313.64 L184.99,313.29 L186.21,312.94 L187.43,312.57 L188.66,312.19 L189.89,311.79 L191.11,311.38 L192.32,310.95 L193.5,310.49 L194.65,310.01 L195.76,309.5 L196.82,308.96 L197.82,308.4 L198.72,307.82 L199.51,307.26 L200.21,306.7 L200.87,306.13 L201.5,305.54 L202.1,304.93 L202.68,304.3 L203.23,303.65 L203.76,302.98 L204.29,302.29 L204.8,301.58 L205.3,300.84 L205.82,300.04 L206.35,299.18 L206.88,298.25 L207.39,297.28 L207.88,296.28 L208.35,295.25 L208.8,294.2 L209.24,293.13 L209.67,292.05 L210.09,290.96 L210.5,289.87 L210.9,288.78 L211.3,287.69 L211.69,286.57 L212.08,285.44 L212.45,284.3 L212.8,283.15 L213.15,281.98 L213.48,280.82 L213.81,279.65 L214.13,278.48 L214.45,277.3 L214.77,276.13 L215.08,274.97 L215.4,273.8 L215.7,272.65 L216,271.49 L216.29,270.33 L216.58,269.17 L216.86,268 L217.14,266.84 L217.42,265.68 L217.7,264.53 L217.99,263.39 L218.29,262.25 L218.59,261.13 L218.9,260.03 L219.21,258.96 L219.53,257.92 L219.86,256.89 L220.19,255.87 L220.52,254.86 L220.86,253.85 L221.2,252.84 L221.54,251.83 L221.88,250.83 L222.22,249.82 L222.56,248.81 L222.9,247.8 L222.87,248.81 L222.84,249.82 L222.81,250.83 L222.79,251.84 L222.76,252.85 L222.74,253.86 L222.7,254.87 L222.67,255.89 L222.62,256.9 L222.56,257.93 L222.48,258.97 L222.39,260.03 L222.27,261.11 L222.14,262.22 L222,263.32 L221.84,264.42 L221.66,265.53 L221.48,266.65 L221.3,267.79 L221.1,268.94 L220.9,270.12 L220.7,271.32 L220.5,272.57 L220.28,273.95 L220.03,275.51 L219.76,277.21 L219.48,278.98 L219.19,280.8 L218.89,282.65 L218.59,284.53 L218.29,286.43 L217.99,288.34 L217.68,290.26 L217.38,292.18 L217.09,294.1 L216.8,296.05 L216.51,298.06 L216.21,300.14 L215.92,302.29 L215.63,304.47 L215.34,306.65 L215.05,308.82 L214.76,310.94 L214.48,312.98 L214.2,314.93 L213.93,316.75 L213.67,318.38 L213.45,319.7 L213.28,320.66 L213.16,321.39 L213.05,322.03 L212.95,322.63 L212.86,323.2 L212.75,323.75 L212.64,324.28 L212.52,324.81 L212.37,325.34 L212.21,325.88 L212.01,326.44 L211.76,327.05 L211.47,327.72 L211.12,328.43 L210.73,329.16 L210.32,329.89 L209.88,330.62 L209.41,331.35 L208.93,332.07 L208.44,332.79 L207.93,333.49 L207.42,334.18 L206.91,334.84 L206.41,335.48 L205.91,336.09 L205.41,336.68 L204.9,337.27 L204.39,337.84 L203.86,338.41 L203.33,338.96 L202.79,339.49 L202.25,340 L201.71,340.49 L201.17,340.95 L200.64,341.38 L200.14,341.76 L199.69,342.08 L199.27,342.35 L198.85,342.6 L198.44,342.83 L198.03,343.05 L197.61,343.25 L197.19,343.45 L196.77,343.64 L196.34,343.82 L195.9,344.01 L195.45,344.21 L194.97,344.41 L194.46,344.64 L193.93,344.87 L193.39,345.1 L192.84,345.33 L192.29,345.56 L191.72,345.79 L191.14,346.01 L190.55,346.22 L189.94,346.43 L189.31,346.63 L188.65,346.82 L187.9,347.01 L187.03,347.21 L186.07,347.41 L185.05,347.59 L184,347.75 L182.92,347.91 L181.82,348.05 L180.69,348.18 L179.56,348.31 L178.42,348.43 L177.27,348.55 L176.13,348.68 L174.98,348.8 L173.82,348.92 L172.66,349.04 L171.51,349.15 L170.36,349.25 L169.2,349.35 L168.03,349.44 L166.82,349.54 L165.57,349.64 L164.28,349.74 L162.91,349.85 L161.4,349.98 L159.5,350.14 L157,350.36 L154,350.61 L150.69,350.89 L147.17,351.18 L143.51,351.49 L139.76,351.81 L135.96,352.15 L132.17,352.5 L128.44,352.86 L124.83,353.23 L121.4,353.61 L118.28,353.98 L115.5,354.33 L112.95,354.68 L110.47,355.03 L108.03,355.39 L105.63,355.76 L103.27,356.14 L100.95,356.52 L98.68,356.91 L96.45,357.31 L94.26,357.7 L92.14,358.09 L90.17,358.47 L88.37,358.81 L86.71,359.12 L85.09,359.42 L83.5,359.72 L81.94,360.02 L80.41,360.33 L78.91,360.66 L77.45,361 L76.01,361.36 L74.61,361.75 L73.26,362.16 L72,362.59 L70.87,363.02 L69.83,363.45 L68.83,363.91 L67.87,364.38 L66.93,364.87 L66,365.37 L65.09,365.88 L64.18,366.39 L63.27,366.9 L62.36,367.4 L61.43,367.91 L60.5,368.4" fill="none" stroke="#1AAAF5" stroke-width="1.6" stroke-linejoin="round"/>
<path d="M67.7,354.6 L68.04,354.25 L68.38,353.9 L68.7,353.54 L69.02,353.18 L69.34,352.83 L69.67,352.47 L70.01,352.12 L70.36,351.77 L70.73,351.44 L71.13,351.11 L71.57,350.8 L72.09,350.47 L72.74,350.12 L73.48,349.75 L74.28,349.41 L75.13,349.07 L76.02,348.76 L76.94,348.47 L77.89,348.19 L78.87,347.92 L79.86,347.67 L80.87,347.44 L81.9,347.21 L82.99,347 L84.2,346.79 L85.5,346.59 L86.86,346.43 L88.25,346.29 L89.67,346.17 L91.11,346.06 L92.56,345.98 L94,345.9 L95.44,345.82 L96.85,345.75 L98.23,345.68 L99.55,345.61 L100.82,345.56 L102.07,345.53 L103.33,345.53 L104.59,345.54 L105.84,345.56 L107.06,345.57 L108.26,345.57 L109.41,345.54 L110.51,345.47 L111.54,345.36 L112.47,345.2 L113.26,345.02 L113.87,344.83 L114.36,344.66 L114.81,344.47 L115.23,344.28 L115.63,344.07 L116.01,343.85 L116.38,343.61 L116.73,343.34 L117.06,343.04 L117.38,342.72 L117.7,342.36 L118.03,341.9 L118.37,341.32 L118.69,340.63 L118.96,339.85 L119.2,339.01 L119.41,338.11 L119.6,337.17 L119.79,336.21 L119.98,335.22 L120.21,334.23 L120.46,333.24 L120.78,332.25 L121.17,331.2 L121.66,330.03 L122.25,328.73 L122.89,327.36 L123.59,325.94 L124.31,324.51 L125.06,323.1 L125.82,321.74 L126.58,320.46 L127.33,319.3 L128.05,318.29 L128.71,317.46 L129.26,316.87 L129.64,316.51 L129.93,316.28 L130.19,316.1 L130.44,315.94 L130.7,315.8 L130.95,315.68 L131.2,315.59 L131.45,315.52 L131.71,315.48 L131.97,315.47 L132.24,315.48 L132.55,315.54 L132.9,315.68 L133.28,315.9 L133.67,316.2 L134.06,316.57 L134.45,316.99 L134.85,317.45 L135.27,317.93 L135.71,318.42 L136.17,318.91 L136.65,319.37 L137.18,319.81 L137.81,320.24 L138.58,320.72 L139.47,321.23 L140.44,321.76 L141.46,322.29 L142.52,322.8 L143.62,323.29 L144.73,323.74 L145.86,324.14 L146.97,324.47 L148.07,324.72 L149.14,324.89 L150.17,324.95 L151.16,324.91 L152.13,324.78 L153.1,324.57 L154.06,324.28 L155.03,323.94 L155.98,323.56 L156.93,323.14 L157.85,322.69 L158.75,322.24 L159.63,321.78 L160.46,321.34 L161.23,320.92 L161.92,320.52 L162.55,320.11 L163.14,319.68 L163.71,319.23 L164.26,318.77 L164.81,318.32 L165.34,317.87 L165.88,317.46 L166.42,317.07 L166.97,316.74 L167.53,316.45 L168.08,316.24 L168.62,316.09 L169.15,316 L169.67,315.94 L170.21,315.93 L170.74,315.94 L171.28,315.96 L171.81,316.01 L172.35,316.06 L172.89,316.11 L173.43,316.15 L173.96,316.18 L174.5,316.2 L174.39,317.23 L174.28,318.26 L174.19,319.31 L174.1,320.37 L174.01,321.42 L173.92,322.47 L173.81,323.5 L173.68,324.52 L173.53,325.51 L173.35,326.47 L173.14,327.39 L172.9,328.23 L172.65,328.98 L172.39,329.67 L172.11,330.33 L171.81,330.97 L171.5,331.6 L171.17,332.21 L170.83,332.8 L170.47,333.38 L170.09,333.95 L169.71,334.51 L169.31,335.06 L168.9,335.59 L168.5,336.11 L168.09,336.62 L167.69,337.11 L167.28,337.59 L166.85,338.06 L166.41,338.52 L165.93,338.96 L165.43,339.39 L164.89,339.81 L164.3,340.22 L163.63,340.63 L162.74,341.08 L161.52,341.58 L160.01,342.09 L158.31,342.56 L156.45,342.98 L154.49,343.37 L152.44,343.72 L150.34,344.07 L148.22,344.41 L146.1,344.77 L144.01,345.15 L141.99,345.56 L140.04,346.02 L138.16,346.51 L136.32,347.04 L134.5,347.59 L132.69,348.16 L130.88,348.74 L129.07,349.32 L127.26,349.91 L125.44,350.48 L123.61,351.04 L121.76,351.58 L119.88,352.1 L117.94,352.59 L115.93,353.05 L113.86,353.48 L111.76,353.88 L109.63,354.25 L107.49,354.61 L105.35,354.95 L103.2,355.31 L101.05,355.67 L98.91,356.06 L96.79,356.47 L94.69,356.92 L92.63,357.42 L90.61,357.95 L88.61,358.52 L86.64,359.11 L84.67,359.73 L82.72,360.37 L80.77,361.03 L78.83,361.69 L76.88,362.36 L74.94,363.03 L73,363.7 L71.05,364.35 L69.1,365" fill="none" stroke="#000" stroke-width="2.2" stroke-linejoin="round" stroke-dasharray="5,4.4"/>
<polygon points="71.9,345.8 74.3,353.8 80.5,347.6" fill="#000" stroke="#000" stroke-width="0.4" stroke-linejoin="round"/>
<polygon points="188,346.9 193.7,342.2 195.5,350.2" fill="#000" stroke="#000" stroke-width="0.4" stroke-linejoin="round"/>
<polygon points="157.9,343.2 163.4,336.8 166.6,344.5" fill="#000" stroke="#000" stroke-width="0.4" stroke-linejoin="round"/>
<line x1="69.2" y1="260" x2="82" y2="260" stroke="#FF1A1A" stroke-width="1.8"/>
<line x1="69.2" y1="271.3" x2="82" y2="271.3" stroke="#FFA000" stroke-width="1.8"/>
<line x1="69.2" y1="282.2" x2="82" y2="282.2" stroke="#1AAAF5" stroke-width="1.8"/>
<line x1="68.8" y1="293.8" x2="82.4" y2="293.8" stroke="#000" stroke-width="2.2" stroke-dasharray="4.4,4.8"/>
<text x="86.1" y="263.4" font-size="9.6" text-anchor="start" >HPSS</text>
<text x="86.1" y="274.7" font-size="9.6" text-anchor="start" >HPRS</text>
<text x="86.1" y="285.6" font-size="9.6" text-anchor="start" >VP</text>
<text x="86.1" y="297.2" font-size="9.6" text-anchor="start" >GC</text>
<rect x="319.8" y="54.7" width="31.4" height="93.6" fill="#A0A0A4"/>
<line x1="335.5" y1="52.65" x2="335.5" y2="54.7" stroke="#A0A0A4" stroke-width="1.5"/>
<line x1="328" y1="52.65" x2="343" y2="52.65" stroke="#A0A0A4" stroke-width="1.5"/>
<rect x="363.8" y="102.38" width="31.4" height="45.92" fill="#FF8000"/>
<line x1="379.5" y1="86.88" x2="379.5" y2="102.38" stroke="#FF8000" stroke-width="1.5"/>
<line x1="372" y1="86.88" x2="387" y2="86.88" stroke="#FF8000" stroke-width="1.5"/>
<rect x="407.8" y="76.64" width="31.4" height="71.66" fill="#FF0000"/>
<line x1="423.5" y1="56.46" x2="423.5" y2="76.64" stroke="#FF0000" stroke-width="1.5"/>
<line x1="416" y1="56.46" x2="431" y2="56.46" stroke="#FF0000" stroke-width="1.5"/>
<rect x="451.8" y="57.63" width="31.4" height="90.67" fill="#55A0FF"/>
<line x1="467.5" y1="42.42" x2="467.5" y2="57.63" stroke="#55A0FF" stroke-width="1.5"/>
<line x1="460" y1="42.42" x2="475" y2="42.42" stroke="#55A0FF" stroke-width="1.5"/>
<path d="M313.7,31.3 V148.3 H489" fill="none" stroke="#1a1a1a" stroke-width="1.3"/>
<line x1="309.9" y1="31.3" x2="313.7" y2="31.3" stroke="#1a1a1a" stroke-width="1.3"/>
<text x="308.7" y="35" font-size="10.5" text-anchor="end" >40</text>
<line x1="309.9" y1="60.55" x2="313.7" y2="60.55" stroke="#1a1a1a" stroke-width="1.3"/>
<text x="308.7" y="64.25" font-size="10.5" text-anchor="end" >30</text>
<line x1="309.9" y1="89.8" x2="313.7" y2="89.8" stroke="#1a1a1a" stroke-width="1.3"/>
<text x="308.7" y="93.5" font-size="10.5" text-anchor="end" >20</text>
<line x1="309.9" y1="119.05" x2="313.7" y2="119.05" stroke="#1a1a1a" stroke-width="1.3"/>
<text x="308.7" y="122.75" font-size="10.5" text-anchor="end" >10</text>
<line x1="309.9" y1="148.3" x2="313.7" y2="148.3" stroke="#1a1a1a" stroke-width="1.3"/>
<text x="308.7" y="152" font-size="10.5" text-anchor="end" >0</text>
<line x1="335.5" y1="148.3" x2="335.5" y2="151.8" stroke="#1a1a1a" stroke-width="1.3"/>
<text x="335.5" y="163.1" font-size="10.9" text-anchor="middle" >GC</text>
<line x1="379.5" y1="148.3" x2="379.5" y2="151.8" stroke="#1a1a1a" stroke-width="1.3"/>
<text x="379.5" y="163.1" font-size="10.9" text-anchor="middle" >HPSS</text>
<line x1="423.5" y1="148.3" x2="423.5" y2="151.8" stroke="#1a1a1a" stroke-width="1.3"/>
<text x="423.5" y="163.1" font-size="10.9" text-anchor="middle" >HPRS</text>
<line x1="467.5" y1="148.3" x2="467.5" y2="151.8" stroke="#1a1a1a" stroke-width="1.3"/>
<text x="467.5" y="163.1" font-size="10.9" text-anchor="middle" >VP</text>
<text x="401.6" y="183.6" font-size="14.6" text-anchor="middle" >Electrode type</text>
<text transform="translate(289.2,88) rotate(-90)" x="0" y="0" font-size="14.6" text-anchor="middle">Current (μA cm<tspan baseline-shift="super" font-size="9.5">-2</tspan>)</text>
<path d="M335.4,46.5 V39.2 H379.6 V46.5" fill="none" stroke="#000" stroke-width="2.0"/>
<path d="M379.6,30.9 V24.1 H468.2 V30.9" fill="none" stroke="#000" stroke-width="2.0"/>
<text x="359.1" y="41.6" font-size="21.5" text-anchor="middle" letter-spacing="1.2">**</text>
<text x="425" y="26.6" font-size="21.5" text-anchor="middle" letter-spacing="1.2">**</text>
<rect x="588.6" y="107.87" width="31.4" height="39.83" fill="#A0A0A4"/>
<line x1="604.3" y1="106.7" x2="604.3" y2="107.87" stroke="#A0A0A4" stroke-width="1.5"/>
<line x1="596.8" y1="106.7" x2="611.8" y2="106.7" stroke="#A0A0A4" stroke-width="1.5"/>
<rect x="632.6" y="92.25" width="31.4" height="55.45" fill="#FF8000"/>
<line x1="648.3" y1="88.34" x2="648.3" y2="92.25" stroke="#FF8000" stroke-width="1.5"/>
<line x1="640.8" y1="88.34" x2="655.8" y2="88.34" stroke="#FF8000" stroke-width="1.5"/>
<rect x="676.6" y="79.75" width="31.4" height="67.95" fill="#FF0000"/>
<line x1="692.3" y1="69.6" x2="692.3" y2="79.75" stroke="#FF0000" stroke-width="1.5"/>
<line x1="684.8" y1="69.6" x2="699.8" y2="69.6" stroke="#FF0000" stroke-width="1.5"/>
<rect x="720.7" y="87.56" width="31.4" height="60.14" fill="#55A0FF"/>
<line x1="736.4" y1="79.75" x2="736.4" y2="87.56" stroke="#55A0FF" stroke-width="1.5"/>
<line x1="728.9" y1="79.75" x2="743.9" y2="79.75" stroke="#55A0FF" stroke-width="1.5"/>
<path d="M582.1,30.5 V147.7 H757.7" fill="none" stroke="#1a1a1a" stroke-width="1.3"/>
<line x1="578.3" y1="30.55" x2="582.1" y2="30.55" stroke="#1a1a1a" stroke-width="1.3"/>
<text x="577.1" y="34.25" font-size="10.5" text-anchor="end" >0.45</text>
<line x1="578.3" y1="69.6" x2="582.1" y2="69.6" stroke="#1a1a1a" stroke-width="1.3"/>
<text x="577.1" y="73.3" font-size="10.5" text-anchor="end" >0.40</text>
<line x1="578.3" y1="108.65" x2="582.1" y2="108.65" stroke="#1a1a1a" stroke-width="1.3"/>
<text x="577.1" y="112.35" font-size="10.5" text-anchor="end" >0.35</text>
<line x1="578.3" y1="147.7" x2="582.1" y2="147.7" stroke="#1a1a1a" stroke-width="1.3"/>
<text x="577.1" y="151.4" font-size="10.5" text-anchor="end" >0.30</text>
<line x1="604.3" y1="147.7" x2="604.3" y2="151.2" stroke="#1a1a1a" stroke-width="1.3"/>
<text x="604.3" y="163.1" font-size="10.9" text-anchor="middle" >GC</text>
<line x1="648.3" y1="147.7" x2="648.3" y2="151.2" stroke="#1a1a1a" stroke-width="1.3"/>
<text x="648.3" y="163.1" font-size="10.9" text-anchor="middle" >HPSS</text>
<line x1="692.3" y1="147.7" x2="692.3" y2="151.2" stroke="#1a1a1a" stroke-width="1.3"/>
<text x="692.3" y="163.1" font-size="10.9" text-anchor="middle" >HPRS</text>
<line x1="736.4" y1="147.7" x2="736.4" y2="151.2" stroke="#1a1a1a" stroke-width="1.3"/>
<text x="736.4" y="163.1" font-size="10.9" text-anchor="middle" >VP</text>
<text x="670.3" y="183.7" font-size="14.6" text-anchor="middle" >Electrode type</text>
<text transform="translate(549.2,87.8) rotate(-90)" x="0" y="0" font-size="14.6" text-anchor="middle">Epa (V)</text>
<path d="M603.4,43 V35.6 H737 V43" fill="none" stroke="#000" stroke-width="2.0"/>
<path d="M603.4,63.8 V56.4 H692.2 V63.8" fill="none" stroke="#000" stroke-width="2.0"/>
<path d="M603.4,82.1 V75 H648.5 V82.1" fill="none" stroke="#000" stroke-width="2.0"/>
<text x="671.1" y="38.4" font-size="21.5" text-anchor="middle" letter-spacing="1.2">**</text>
<text x="649.2" y="59.2" font-size="21.5" text-anchor="middle" letter-spacing="1.2">***</text>
<text x="627.1" y="77.6" font-size="21.5" text-anchor="middle" letter-spacing="1.2">*</text>
<rect x="319.8" y="298.97" width="31.4" height="78.93" fill="#A0A0A4"/>
<line x1="335.5" y1="295.87" x2="335.5" y2="298.97" stroke="#A0A0A4" stroke-width="1.5"/>
<line x1="328" y1="295.87" x2="343" y2="295.87" stroke="#A0A0A4" stroke-width="1.5"/>
<rect x="363.8" y="354.8" width="31.4" height="23.1" fill="#FF8000"/>
<line x1="379.5" y1="347.04" x2="379.5" y2="354.8" stroke="#FF8000" stroke-width="1.5"/>
<line x1="372" y1="347.04" x2="387" y2="347.04" stroke="#FF8000" stroke-width="1.5"/>
<rect x="408" y="352.24" width="31.4" height="25.66" fill="#FF0000"/>
<line x1="423.7" y1="348.75" x2="423.7" y2="352.24" stroke="#FF0000" stroke-width="1.5"/>
<line x1="416.2" y1="348.75" x2="431.2" y2="348.75" stroke="#FF0000" stroke-width="1.5"/>
<rect x="451.7" y="336.03" width="31.4" height="41.87" fill="#55A0FF"/>
<line x1="467.4" y1="329.06" x2="467.4" y2="336.03" stroke="#55A0FF" stroke-width="1.5"/>
<line x1="459.9" y1="329.06" x2="474.9" y2="329.06" stroke="#55A0FF" stroke-width="1.5"/>
<path d="M313.9,261.6 V377.9 H489.5" fill="none" stroke="#1a1a1a" stroke-width="1.3"/>
<line x1="310.1" y1="261.6" x2="313.9" y2="261.6" stroke="#1a1a1a" stroke-width="1.3"/>
<text x="308.9" y="265.3" font-size="10.5" text-anchor="end" >150</text>
<line x1="310.1" y1="300.37" x2="313.9" y2="300.37" stroke="#1a1a1a" stroke-width="1.3"/>
<text x="308.9" y="304.07" font-size="10.5" text-anchor="end" >100</text>
<line x1="310.1" y1="339.13" x2="313.9" y2="339.13" stroke="#1a1a1a" stroke-width="1.3"/>
<text x="308.9" y="342.83" font-size="10.5" text-anchor="end" >50</text>
<line x1="310.1" y1="377.9" x2="313.9" y2="377.9" stroke="#1a1a1a" stroke-width="1.3"/>
<text x="308.9" y="381.6" font-size="10.5" text-anchor="end" >0</text>
<line x1="335.5" y1="377.9" x2="335.5" y2="381.4" stroke="#1a1a1a" stroke-width="1.3"/>
<text x="335.5" y="392.9" font-size="10.9" text-anchor="middle" >GC</text>
<line x1="379.5" y1="377.9" x2="379.5" y2="381.4" stroke="#1a1a1a" stroke-width="1.3"/>
<text x="379.5" y="392.9" font-size="10.9" text-anchor="middle" >HPSS</text>
<line x1="423.7" y1="377.9" x2="423.7" y2="381.4" stroke="#1a1a1a" stroke-width="1.3"/>
<text x="423.7" y="392.9" font-size="10.9" text-anchor="middle" >HPRS</text>
<line x1="467.4" y1="377.9" x2="467.4" y2="381.4" stroke="#1a1a1a" stroke-width="1.3"/>
<text x="467.4" y="392.9" font-size="10.9" text-anchor="middle" >VP</text>
<text x="402" y="413.9" font-size="14.6" text-anchor="middle" >Electrode type</text>
<text transform="translate(282.2,316.5) rotate(-90)" x="0" y="0" font-size="14.6" text-anchor="middle">Current (μA cm<tspan baseline-shift="super" font-size="9.5">-2</tspan>)</text>
<path d="M334.6,249.2 V241.8 H468.1 V249.2" fill="none" stroke="#000" stroke-width="2.0"/>
<path d="M334.6,270.4 V263 H423.4 V270.4" fill="none" stroke="#000" stroke-width="2.0"/>
<path d="M334.6,289.4 V282 H379.6 V289.4" fill="none" stroke="#000" stroke-width="2.0"/>
<path d="M379,303.2 V295.7 H468.1 V303.2" fill="none" stroke="#000" stroke-width="2.0"/>
<path d="M423.5,322.4 V315.6 H468.1 V322.4" fill="none" stroke="#000" stroke-width="2.0"/>
<text x="402.2" y="245" font-size="21.5" text-anchor="middle" letter-spacing="1.2">***</text>
<text x="380.6" y="265.6" font-size="21.5" text-anchor="middle" letter-spacing="1.2">***</text>
<text x="358.2" y="284.6" font-size="21.5" text-anchor="middle" letter-spacing="1.2">***</text>
<text x="422.8" y="298.7" font-size="21.5" text-anchor="middle" letter-spacing="1.2">**</text>
<text x="443.6" y="316.6" font-size="21.5" text-anchor="middle" letter-spacing="1.2">*</text>
<rect x="585.9" y="316.93" width="31.4" height="60.27" fill="#A0A0A4"/>
<line x1="601.6" y1="316" x2="601.6" y2="316.93" stroke="#A0A0A4" stroke-width="1.5"/>
<line x1="594.1" y1="316" x2="609.1" y2="316" stroke="#A0A0A4" stroke-width="1.5"/>
<rect x="629.7" y="283.99" width="31.4" height="93.21" fill="#FF8000"/>
<line x1="645.4" y1="280.49" x2="645.4" y2="283.99" stroke="#FF8000" stroke-width="1.5"/>
<line x1="637.9" y1="280.49" x2="652.9" y2="280.49" stroke="#FF8000" stroke-width="1.5"/>
<rect x="673.9" y="277.69" width="31.4" height="99.51" fill="#FF0000"/>
<line x1="689.6" y1="276.28" x2="689.6" y2="277.69" stroke="#FF0000" stroke-width="1.5"/>
<line x1="682.1" y1="276.28" x2="697.1" y2="276.28" stroke="#FF0000" stroke-width="1.5"/>
<rect x="718" y="287.26" width="31.4" height="89.94" fill="#55A0FF"/>
<line x1="733.7" y1="286.33" x2="733.7" y2="287.26" stroke="#55A0FF" stroke-width="1.5"/>
<line x1="726.2" y1="286.33" x2="741.2" y2="286.33" stroke="#55A0FF" stroke-width="1.5"/>
<path d="M580.2,260.4 V377.2 H755.5" fill="none" stroke="#1a1a1a" stroke-width="1.3"/>
<line x1="576.4" y1="260.4" x2="580.2" y2="260.4" stroke="#1a1a1a" stroke-width="1.3"/>
<text x="575.2" y="264.1" font-size="10.5" text-anchor="end" >0.5</text>
<line x1="576.4" y1="283.76" x2="580.2" y2="283.76" stroke="#1a1a1a" stroke-width="1.3"/>
<text x="575.2" y="287.46" font-size="10.5" text-anchor="end" >0.4</text>
<line x1="576.4" y1="307.12" x2="580.2" y2="307.12" stroke="#1a1a1a" stroke-width="1.3"/>
<text x="575.2" y="310.82" font-size="10.5" text-anchor="end" >0.3</text>
<line x1="576.4" y1="330.48" x2="580.2" y2="330.48" stroke="#1a1a1a" stroke-width="1.3"/>
<text x="575.2" y="334.18" font-size="10.5" text-anchor="end" >0.2</text>
<line x1="576.4" y1="353.84" x2="580.2" y2="353.84" stroke="#1a1a1a" stroke-width="1.3"/>
<text x="575.2" y="357.54" font-size="10.5" text-anchor="end" >0.1</text>
<line x1="576.4" y1="377.2" x2="580.2" y2="377.2" stroke="#1a1a1a" stroke-width="1.3"/>
<text x="575.2" y="380.9" font-size="10.5" text-anchor="end" >0.0</text>
<line x1="601.6" y1="377.2" x2="601.6" y2="380.7" stroke="#1a1a1a" stroke-width="1.3"/>
<text x="601.6" y="392.3" font-size="10.9" text-anchor="middle" >GC</text>
<line x1="645.4" y1="377.2" x2="645.4" y2="380.7" stroke="#1a1a1a" stroke-width="1.3"/>
<text x="645.4" y="392.3" font-size="10.9" text-anchor="middle" >HPSS</text>
<line x1="689.6" y1="377.2" x2="689.6" y2="380.7" stroke="#1a1a1a" stroke-width="1.3"/>
<text x="689.6" y="392.3" font-size="10.9" text-anchor="middle" >HPRS</text>
<line x1="733.7" y1="377.2" x2="733.7" y2="380.7" stroke="#1a1a1a" stroke-width="1.3"/>
<text x="733.7" y="392.3" font-size="10.9" text-anchor="middle" >VP</text>
<text x="668.1" y="413.1" font-size="14.6" text-anchor="middle" >Electrode type</text>
<text transform="translate(552.6,316.3) rotate(-90)" x="0" y="0" font-size="14.6" text-anchor="middle">Epa (V)</text>
<path d="M601.3,228.4 V221.8 H732.8 V228.4" fill="none" stroke="#000" stroke-width="2.0"/>
<path d="M601.3,248.3 V241.2 H688.6 V248.3" fill="none" stroke="#000" stroke-width="2.0"/>
<path d="M601.3,271.6 V264.5 H645.7 V271.6" fill="none" stroke="#000" stroke-width="2.0"/>
<path d="M645.7,271.6 V258.6 H688.8 V267.5" fill="none" stroke="#000" stroke-width="2.0"/>
<path d="M688.8,267.5 V260.2 H732.8 V267.5" fill="none" stroke="#000" stroke-width="2.0"/>
<text x="668.7" y="224.4" font-size="21.5" text-anchor="middle" letter-spacing="1.2">***</text>
<text x="646.4" y="244" font-size="21.5" text-anchor="middle" letter-spacing="1.2">***</text>
<text x="623.9" y="267.7" font-size="21.5" text-anchor="middle" letter-spacing="1.2">***</text>
<text x="668" y="260.6" font-size="21.5" text-anchor="middle" letter-spacing="1.2">*</text>
<text x="711.6" y="261.6" font-size="21.5" text-anchor="middle" letter-spacing="1.2">**</text>
</svg></body></html>
